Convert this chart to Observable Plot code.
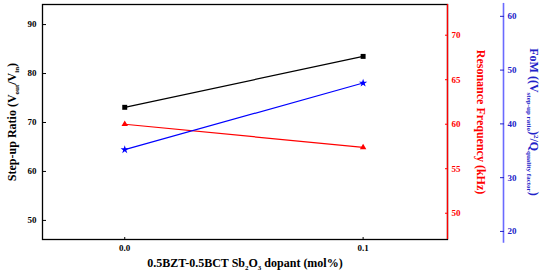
<!DOCTYPE html>
<html><head><meta charset="utf-8">
<script src="https://cdn.jsdelivr.net/npm/d3@7"></script>
<script src="https://cdn.jsdelivr.net/npm/@observablehq/plot@0.6"></script>
<style>body{margin:0;background:#fff} svg{display:block}</style>
</head><body><div id="chart"></div>
<script>
// data
const dopant = [0.0, 0.1];
const stepUp = [73.1, 83.5];       // left axis
const resonance = [60.0, 57.4];    // red axis (kHz)
const fom = [35.2, 47.6];          // blue axis
const xTicks = [0.0, 0.1];
const leftTicks = [50, 60, 70, 80, 90];
const redTicks = [50, 55, 60, 65, 70];
const blueTicks = [20, 30, 40, 50, 60];

const xDom = [-0.0345, 0.1354];
const yDom = [46.1, 94.1];
const redDom = [47.05, 73.45];
const blueDom = [18.5, 62.2];

const redToY = d3.scaleLinear().domain(redDom).range(yDom);
const blueToY = d3.scaleLinear().domain(blueDom).range(yDom);

const rows = dopant.map((x, i) => ({x, step: stepUp[i], res: redToY(resonance[i]), fom: blueToY(fom[i])}));

const RED = "#ff0000", BLUE = "#0000ff", DBLUE = "#2222c8";
const serif = '"Liberation Serif", "Times New Roman", serif';

const chart = Plot.plot({
  width: 550, height: 280,
  marginTop: 4, marginRight: 103, marginBottom: 41, marginLeft: 42,
  style: {fontFamily: serif, fontSize: "9px", fontWeight: "bold", background: "#fff", overflow: "visible"},
  x: {domain: xDom},
  y: {domain: yDom},
  marks: [
    Plot.frame({stroke: "#000", strokeWidth: 1.3}),
    Plot.ruleX([xDom[1]], {stroke: RED, strokeWidth: 1.3}),
    Plot.ruleX([xDom[1]], {stroke: "#6a6aff", strokeWidth: 1.6, dx: 56, y1: blueToY(17.8), y2: blueToY(62.4)}),
    Plot.axisX(xTicks, {anchor: "bottom", tickSize: -2, tickPadding: 7, tickFormat: d3.format(".1f"), label: null}),
    Plot.axisY(leftTicks, {anchor: "left", tickSize: -4, tickPadding: 10, label: null}),
    Plot.axisY(redTicks.map(v => redToY(v)), {anchor: "right", tickSize: -3, tickPadding: 7, color: RED,
      tickFormat: v => d3.format("d")(Math.round(redToY.invert(v))), label: null}),
    Plot.axisY(blueTicks.map(v => blueToY(v)), {anchor: "right", tickSize: -4, tickPadding: 8, dx: 56, color: DBLUE,
      tickFormat: v => d3.format("d")(Math.round(blueToY.invert(v))), label: null}),
    Plot.line(rows, {x: "x", y: "step", stroke: "#000", strokeWidth: 1.2}),
    Plot.line(rows, {x: "x", y: "res", stroke: RED, strokeWidth: 1.2}),
    Plot.line(rows, {x: "x", y: "fom", stroke: BLUE, strokeWidth: 1.2}),
    Plot.dot(rows, {x: "x", y: "step", symbol: "square", r: 2.8, fill: "#000"}),
    Plot.dot(rows, {x: "x", y: "res", symbol: "triangle", r: 2.4, fill: RED}),
    Plot.dot(rows, {x: "x", y: "fom", symbol: "star", r: 2.6, fill: BLUE}),
    Plot.text(["Step-up Ratio (Vout/Vin)"], {frameAnchor: "left", dx: -30, rotate: -90, textAnchor: "middle", text: d => d, fontSize: 12}),
    Plot.text(["Resonance Frequency (kHz)"], {frameAnchor: "right", dx: 33, rotate: 90, textAnchor: "middle", text: d => d, fontSize: 12, fill: RED}),
    Plot.text(["FoM ((Vstep-up ratio)2/Qquality factor)"], {frameAnchor: "right", dx: 86, rotate: 90, textAnchor: "middle", text: d => d, fontSize: 12, fill: DBLUE}),
    Plot.text(["0.5BZT-0.5BCT Sb2O3 dopant (mol%)"], {frameAnchor: "bottom", dy: 27, textAnchor: "middle", text: d => d, fontSize: 12})
  ]
});
document.getElementById("chart").append(chart);

// rich text (subscripts / superscripts) for axis titles
function rich(plain, parts) {
  const t = d3.select(chart).selectAll("text").filter(function() { return this.textContent === plain; });
  t.text(null);
  for (const [s, kind] of parts) {
    const sp = t.append("tspan").text(s);
    if (kind === "sub") sp.attr("dy", 3).attr("font-size", 7);
    else if (kind === "sup") sp.attr("dy", -4).attr("font-size", 7);
    else if (kind === "down") sp.attr("dy", -3);
    else if (kind === "up") sp.attr("dy", 4);
  }
}
rich("Step-up Ratio (Vout/Vin)", [["Step-up Ratio (V"], ["out", "sub"], ["/V", "down"], ["in", "sub"], [")", "down"]]);
rich("FoM ((Vstep-up ratio)2/Qquality factor)", [["FoM ((V"], ["step-up ratio", "sub"], [")", "down"], ["2", "sup"], ["/Q", "up"], ["quality factor", "sub"], [")", "down"]]);
rich("0.5BZT-0.5BCT Sb2O3 dopant (mol%)", [["0.5BZT-0.5BCT Sb"], ["2", "sub"], ["O", "down"], ["3", "sub"], [" dopant (mol%)", "down"]]);
</script>
</body></html>
